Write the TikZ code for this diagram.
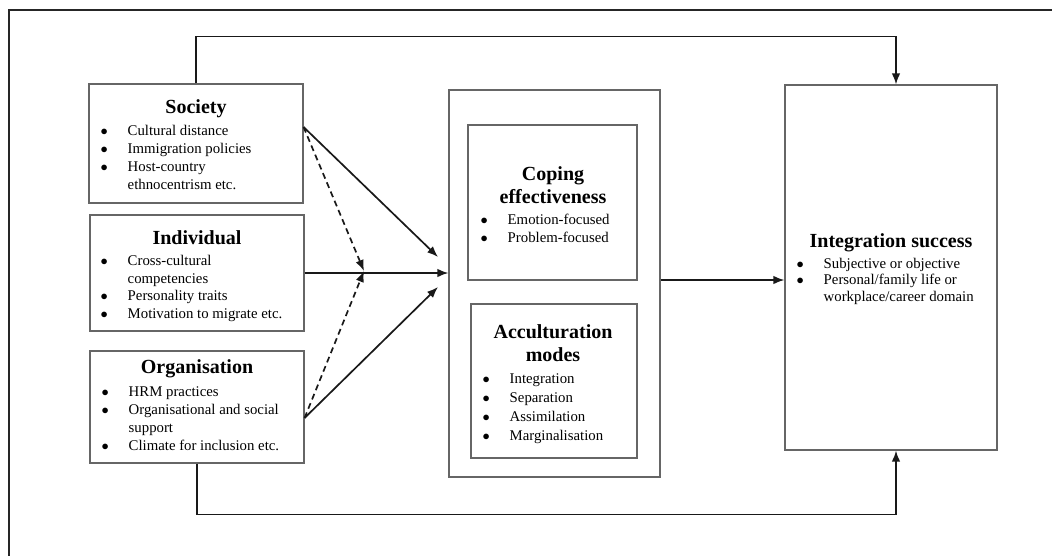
\documentclass[tikz,border=0pt]{standalone}
\usepackage{fontspec}
\setmainfont{Liberation Serif}
\usetikzlibrary{arrows.meta,calc,positioning}

% bullet and continuation indent for the lists
\newcommand{\bl}{\makebox[27pt][l]{$\bullet$}}
\newcommand{\bc}{\hspace*{27pt}}

\tikzset{
  box/.style={draw=black!60, line width=1.1pt, inner sep=0pt},
  head/.style={font=\fontsize{20}{23}\selectfont\bfseries, align=center, inner sep=0pt},
  items/.style={font=\fontsize{14.8}{18}\selectfont, align=left, anchor=north west, inner sep=0pt},
  conn/.style={line width=1.7pt, draw=black!90, -{Latex[length=11pt,width=8.5pt]}},
  dconn/.style={conn, dash pattern=on 6pt off 4pt},
  frame/.style={line width=2pt, draw=black!85}
}

\begin{document}
\begin{tikzpicture}[x=1pt,y=-1pt]
       \useasboundingbox (0,0) rectangle (1052,555);
       \draw[frame] (9,600) -- (9,10) -- (1100,10);
       % boxes
       \node[box, minimum width=214pt, minimum height=119pt] (soc) at (196,143.5) {};
       \node[box, minimum width=214pt, minimum height=116pt] (ind) at (197,273) {};
       \node[box, minimum width=214pt, minimum height=112pt] (org) at (197,407) {};
       \node[box, minimum width=211pt, minimum height=387pt] (mid) at (554.5,283.5) {};
       \node[box, minimum width=169pt, minimum height=155pt] (cop) at (552.5,202.5) {};
       \node[box, minimum width=166pt, minimum height=154pt] (acc) at (554,381) {};
       \node[box, minimum width=212pt, minimum height=365pt] (suc) at (891,267.5) {};
       % texts
       \node[head] (socT) at (196,109) {Society};
       \node[items] (socL) at (100.5,125) {\bl Cultural distance\\ \bl Immigration policies\\ \bl Host-country\\ \bc ethnocentrism etc.};
       \node[head] (indT) at (197,238) {Individual};
       \node[items, font=\fontsize{14.8}{17.7}\selectfont] (indL) at (100.5,255) {\bl Cross-cultural\\ \bc competencies\\ \bl Personality traits\\ \bl Motivation to migrate etc.};
       \node[head] (orgT) at (197,369) {Organisation};
       \node[items] (orgL) at (101.5,386) {\bl HRM practices\\ \bl Organisational and social\\ \bc support\\ \bl Climate for inclusion etc.};
       \node[head] (copT) at (553,185.5) {Coping\\effectiveness};
       \node[items] (copL) at (480.5,214) {\bl Emotion-focused\\ \bl Problem-focused};
       \node[head] (accT) at (553,343.5) {Acculturation\\modes};
       \node[items, font=\fontsize{14.8}{19}\selectfont] (accL) at (482.5,373) {\bl Integration\\ \bl Separation\\ \bl Assimilation\\ \bl Marginalisation};
       \node[head] (sucT) at (891,243) {Integration success};
       \node[items, font=\fontsize{14.8}{16.5}\selectfont] (sucL) at (796.5,258) {\bl Subjective or objective\\ \bl Personal/family life or\\ \bc workplace/career domain};
       % arrow meeting points
       \coordinate (hubA) at (438,257);
       \coordinate (hubB) at (438,287);
       \coordinate (mix) at (364,271);
       % connectors
       \draw[conn] ($(soc.east)+(0,-16.5)$) -- (hubA);
       \draw[conn] ($(org.east)+(0,11)$) -- (hubB);
       \draw[conn] (ind.east) -- (ind.east -| mid.west);
       \draw[dconn] ($(soc.east)+(0,-16.5)$) -- (mix);
       \draw[dconn] ($(org.east)+(0,11)$) -- (mix);
       \draw[conn] ($(mid.east)+(0,-3.5)$) -- ($(mid.east -| suc.west)+(0,-3.5)$);
       \draw[conn] (soc.north) -- ++(0,-47) -| ($(suc.north)+(5,0)$);
       \draw[conn] (org.south) -- ++(0,51) -| ($(suc.south)+(5,0)$);
     \end{tikzpicture}
\end{document}
